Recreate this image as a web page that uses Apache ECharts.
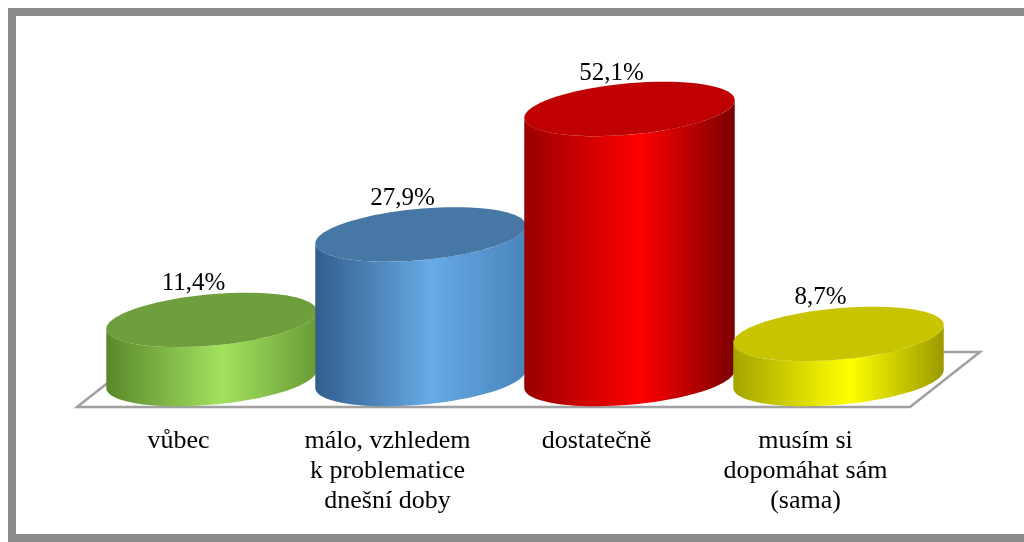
<!DOCTYPE html>
<html>
<head>
<meta charset="utf-8">
<script src="https://cdn.jsdelivr.net/npm/echarts@6/dist/echarts.min.js"></script>
<style>
  html, body { margin: 0; padding: 0; background: #fff; }
  #chart { width: 1024px; height: 542px; }
</style>
</head>
<body>
<div id="chart"></div>
<script>
// kategorie a hodnoty (%)
const categories = ['vůbec', 'málo, vzhledem\nk problematice\ndnešní doby', 'dostatečně', 'musím si\ndopomáhat sám\n(sama)'];
const values = [11.4, 27.9, 52.1, 8.7];

// barvy válců: [levý okraj, střed, pravý okraj, víko]
const palette = [
    ['#5a882a', '#a2e25e', '#6a9c36', '#6f9e3d'],
    ['#325e8c', '#66aae6', '#4a84bc', '#4677a5'],
    ['#9a0000', '#ff0000', '#7a0000', '#c00000'],
    ['#a4a400', '#ffff00', '#9a9a00', '#c8c400']
];

const SERIF = '"Liberation Serif", "DejaVu Serif", serif';
const TILT = 0.08;   // náklon elipsy (rad)
const RY = 26;       // poloosa elipsy

function ellipsePoint(cx, cy, rx, ry, t) {
    const c = Math.cos(TILT), s = Math.sin(TILT);
    return [
        cx + rx * Math.cos(t) * c - ry * Math.sin(t) * s,
        cy - rx * Math.cos(t) * s + ry * Math.sin(t) * c
    ];
}

function ellipsePoints(cx, cy, rx, ry, from, to, n) {
    const pts = [];
    for (let i = 0; i <= n; i++) {
        pts.push(ellipsePoint(cx, cy, rx, ry, from + (to - from) * i / n));
    }
    return pts;
}

function renderCylinder(params, api) {
    const idx = params.dataIndex;
    const top = api.coord([api.value(0), api.value(1)]);
    const base = api.coord([api.value(0), 0]);
    const rx = api.size([1, 0])[0] * 0.505;
    const cx = top[0];
    const t0 = Math.atan(-(RY / rx) * Math.tan(TILT));
    const col = palette[idx];

    // tělo válce
    const body = ellipsePoints(cx, base[1], rx, RY, t0, t0 + Math.PI, 40)
        .concat(ellipsePoints(cx, top[1], rx, RY, t0 + Math.PI, t0, 40));
    // víko
    const lid = ellipsePoints(cx, top[1], rx, RY, 0, Math.PI * 2, 80);

    const label = api.value(1).toFixed(1).replace('.', ',') + '%';

    return {
        type: 'group',
        children: [
            {
                type: 'polygon',
                shape: { points: body },
                style: {
                    fill: new echarts.graphic.LinearGradient(0, 0, 1, 0, [
                        { offset: 0, color: col[0] },
                        { offset: 0.55, color: col[1] },
                        { offset: 1, color: col[2] }
                    ])
                }
            },
            {
                type: 'polygon',
                shape: { points: lid },
                style: { fill: col[3] }
            },
            {
                type: 'text',
                style: {
                    text: label,
                    x: cx - 18,
                    y: top[1] - 36,
                    align: 'center',
                    verticalAlign: 'middle',
                    font: '25px ' + SERIF,
                    fill: '#000'
                }
            }
        ]
    };
}

function renderFloor(params, api) {
    const cs = params.coordSys;
    const baseY = cs.y + cs.height;
    const fy = baseY + 28, by = baseY - 27;
    const pts = [
        [cs.x - 30, fy],
        [cs.x + cs.width - 33, fy],
        [cs.x + cs.width + 37, by],
        [cs.x + 40, by]
    ];
    return {
        type: 'polygon',
        shape: { points: pts },
        style: { fill: '#fff', stroke: '#a0a0a0', lineWidth: 2.5 }
    };
}

const chart = echarts.init(document.getElementById('chart'));

const option = {
    animation: false,
    backgroundColor: '#fff',
    graphic: [{
        type: 'rect',
        shape: { x: 12, y: 12, width: 1030, height: 526 },
        style: { fill: 'none', stroke: '#8a8a8a', lineWidth: 8 },
        z: 100
    }],
    grid: {
        left: 107,
        right: 81,
        top: 68,
        bottom: 163
    },
    xAxis: {
        type: 'category',
        data: categories,
        axisLine: { show: false },
        axisTick: { show: false },
        axisLabel: {
            interval: 0,
            margin: 47,
            fontFamily: SERIF,
            fontSize: 26,
            lineHeight: 30,
            color: '#000',
            align: 'center',
            padding: [0, 66, 0, 0]
        }
    },
    yAxis: {
        type: 'value',
        min: 0,
        max: 60,
        show: false
    },
    series: [
        {
            type: 'custom',
            z: 1,
            renderItem: renderFloor,
            data: [[0, 0]],
            silent: true
        },
        {
            type: 'custom',
            z: 2,
            renderItem: renderCylinder,
            encode: { x: 0, y: 1 },
            data: values.map((v, i) => [i, v])
        }
    ]
};

chart.setOption(option);
</script>
</body>
</html>
